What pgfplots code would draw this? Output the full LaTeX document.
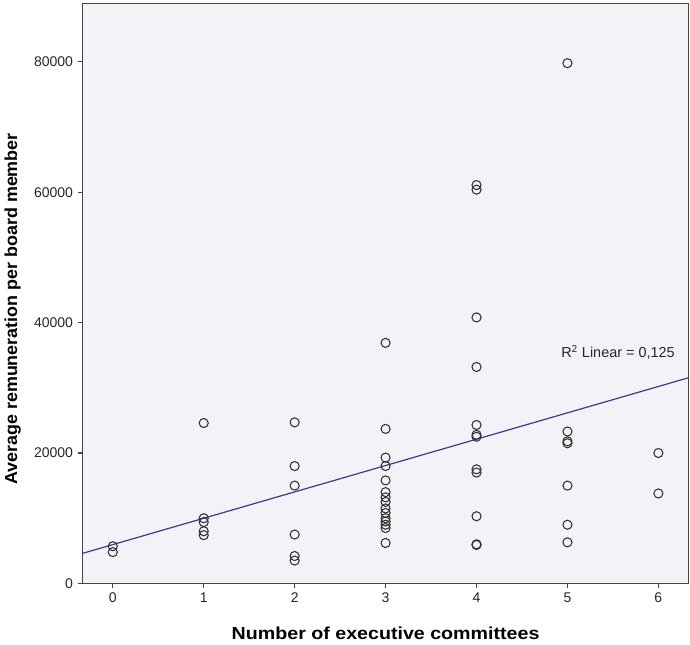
\documentclass[border=0pt]{standalone}
\usepackage{pgfplots}
\pgfplotsset{compat=1.18}
\usepackage{fontspec}
\setmainfont{Liberation Sans}
\newfontfamily\xlabelfont[FakeStretch=1.13]{Liberation Sans}
\newfontfamily\ylabelfont[FakeStretch=1.03]{Liberation Sans}

\definecolor{plotbg}{RGB}{245,242,247}
\definecolor{framegray}{RGB}{68,68,68}
\definecolor{fitblue}{RGB}{58,58,150}

\begin{document}
\begin{tikzpicture}
\begin{axis}[
  width=453pt, height=434pt, scale only axis,
  xmin=-0.33, xmax=6.33, ymin=0, ymax=89000,
  axis background/.style={fill=plotbg},
  axis line style={framegray, line width=0.9pt},
  xtick={0,1,2,3,4,5,6},
  ytick={0,20000,40000,60000,80000},
  tick align=outside, tick pos=left,
  major tick length=3.75pt,
  tick style={framegray, line width=0.9pt},
  scaled y ticks=false,
  /pgf/number format/1000 sep={},
  /pgf/number format/assume math mode=true,
  ticklabel style={font=\fontsize{10.5}{12}\selectfont, text=black!85},
  xlabel={Number of executive committees},
  ylabel={Average remuneration per board member},
  xlabel style={font=\xlabelfont\bfseries\fontsize{13}{15}\selectfont,
                at={(axis description cs:0.5,-0.0864)}, anchor=center},
  ylabel style={font=\ylabelfont\bfseries\fontsize{13}{15}\selectfont,
                at={(axis description cs:-0.1159,0.473)}, anchor=center},
  clip=false,
]
% observations
\addplot[only marks, mark=o, mark size=3.4pt,
         mark options={draw=black!80, line width=0.8pt}] coordinates {
  (0,5700) (0,4800)
  (1,24600) (1,10000) (1,9400) (1,8000) (1,7400)
  (2,24700) (2,18000) (2,15000) (2,7500) (2,4200) (2,3500)
  (3,36900) (3,23700) (3,19300) (3,18000) (3,15800) (3,14000) (3,13200)
  (3,12500) (3,11500) (3,10800) (3,10000) (3,9500) (3,9000) (3,8500) (3,6200)
  (4,61100) (4,60400) (4,40800) (4,33200) (4,24300) (4,22800) (4,22500)
  (4,17500) (4,17000) (4,10300) (4,6000) (4,5900)
  (5,79800) (5,23300) (5,21800) (5,21500) (5,15000) (5,9000) (5,6300)
  (6,20000) (6,13800)
};
% linear fit
\addplot[fitblue, line width=0.9pt] coordinates {(-0.33,4615) (6.33,31540)};
\node[anchor=west, font=\fontsize{10.8}{12}\selectfont, text=black!85]
  at (axis cs:4.88,35400) {R\textsuperscript{2} Linear = 0,125};
% a little margin above and right of the frame
\path (rel axis cs:1,1) ++(1.2pt,2.4pt);
\end{axis}
\end{tikzpicture}
\end{document}
